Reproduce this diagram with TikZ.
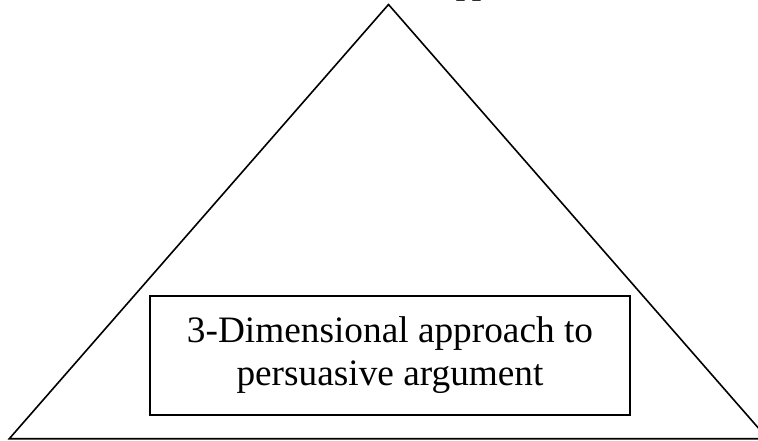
\documentclass[tikz,border=0pt]{standalone}
\usepackage{fontspec}
\setmainfont{Liberation Serif}
\begin{document}
\begin{tikzpicture}[x=1pt,y=-1pt,
  tri/.style={draw=black,line width=1.6pt,line join=miter},
  boxstyle/.style={draw=black,line width=1.6pt,minimum width=480pt,minimum height=119pt,
    align=center,inner sep=0pt,font=\fontsize{37.3}{43}\selectfont},
  headstyle/.style={anchor=base west,inner sep=0pt,font=\fontsize{32}{38}\selectfont\bfseries\itshape}]
\useasboundingbox (0,0) rectangle (758,440);
\clip (0,0) rectangle (758,440);
\coordinate (apex) at (388.5,4.5);
\coordinate (bl) at (9.3,438.7);
\coordinate (br) at (767.7,438.7);
\draw[tri] (apex) -- (bl) -- (br) -- cycle;
\node[boxstyle] (box) at (390,355.5) {3-Dimensional approach to\\persuasive argument};
\node[headstyle] (head) at (437,-5.5) {Approach};
\end{tikzpicture}
\end{document}
